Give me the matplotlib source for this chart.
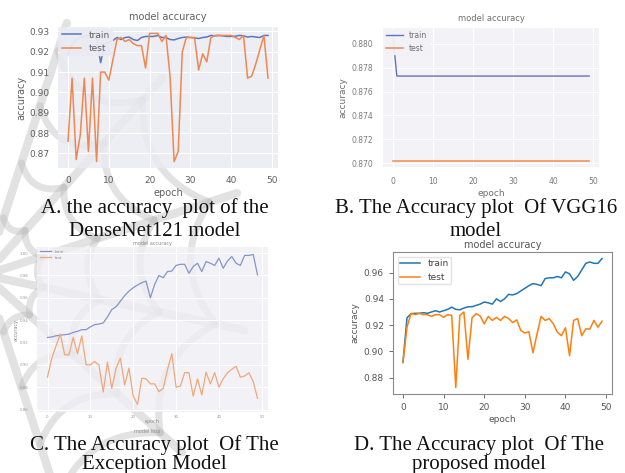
import numpy as np
import matplotlib
matplotlib.use('Agg')
from matplotlib import pyplot as plt

epochs = list(range(50))

# A. DenseNet121
dense_train = [0.9187, 0.9235, 0.9260, 0.9270, 0.9275, 0.9280, 0.9280, 0.9265, 0.9146, 0.9238,
               0.9245, 0.9255, 0.9270, 0.9260, 0.9270, 0.9272, 0.9260, 0.9255, 0.9270, 0.9275,
               0.9275, 0.9275, 0.9280, 0.9270, 0.9270, 0.9260, 0.9258, 0.9265, 0.9270, 0.9272,
               0.9270, 0.9268, 0.9265, 0.9270, 0.9272, 0.9280, 0.9278, 0.9280, 0.9278, 0.9275,
               0.9275, 0.9276, 0.9280, 0.9278, 0.9272, 0.9275, 0.9272, 0.9270, 0.9280, 0.9280]
dense_test = [0.876, 0.907, 0.867, 0.879, 0.907, 0.871, 0.907, 0.866, 0.910, 0.910,
              0.906, 0.916, 0.926, 0.927, 0.925, 0.926, 0.924, 0.923, 0.923, 0.912,
              0.929, 0.929, 0.929, 0.925, 0.928, 0.908, 0.866, 0.871, 0.920, 0.927,
              0.927, 0.927, 0.911, 0.919, 0.915, 0.927, 0.928, 0.928, 0.928, 0.928,
              0.928, 0.927, 0.926, 0.928, 0.907, 0.908, 0.914, 0.921, 0.928, 0.907]

# B. VGG16
vgg_train = [0.8808, 0.8773, 0.8773, 0.8773, 0.8773, 0.8773, 0.8773, 0.8773, 0.8773, 0.8773,
             0.8773, 0.8773, 0.8773, 0.8773, 0.8773, 0.8773, 0.8773, 0.8773, 0.8773, 0.8773,
             0.8773, 0.8773, 0.8773, 0.8773, 0.8773, 0.8773, 0.8773, 0.8773, 0.8773, 0.8773,
             0.8773, 0.8773, 0.8773, 0.8773, 0.8773, 0.8773, 0.8773, 0.8773, 0.8773, 0.8773,
             0.8773, 0.8773, 0.8773, 0.8773, 0.8773, 0.8773, 0.8773, 0.8773, 0.8773, 0.8773]
vgg_test = [0.8702, 0.8702, 0.8702, 0.8702, 0.8702, 0.8702, 0.8702, 0.8702, 0.8702, 0.8702,
            0.8702, 0.8702, 0.8702, 0.8702, 0.8702, 0.8702, 0.8702, 0.8702, 0.8702, 0.8702,
            0.8702, 0.8702, 0.8702, 0.8702, 0.8702, 0.8702, 0.8702, 0.8702, 0.8702, 0.8702,
            0.8702, 0.8702, 0.8702, 0.8702, 0.8702, 0.8702, 0.8702, 0.8702, 0.8702, 0.8702,
            0.8702, 0.8702, 0.8702, 0.8702, 0.8702, 0.8702, 0.8702, 0.8702, 0.8702, 0.8702]

# C. Xception
xcep_train = [0.9245, 0.9250, 0.9260, 0.9265, 0.9270, 0.9275, 0.9290, 0.9300, 0.9315, 0.9315,
              0.9340, 0.9360, 0.9365, 0.9375, 0.9430, 0.9495, 0.9520, 0.9570, 0.9620, 0.9660,
              0.9690, 0.9715, 0.9735, 0.9750, 0.9600, 0.9720, 0.9800, 0.9780, 0.9835, 0.9840,
              0.9890, 0.9900, 0.9900, 0.9820, 0.9880, 0.9910, 0.9835, 0.9925, 0.9910, 0.9890,
              0.9955, 0.9865, 0.9930, 0.9970, 0.9910, 0.9890, 0.9980, 0.9980, 0.9988, 0.9805]
xcep_test = [0.889, 0.906, 0.917, 0.9276, 0.909, 0.909, 0.9246, 0.910, 0.926, 0.900,
             0.900, 0.903, 0.900, 0.8757, 0.9025, 0.879, 0.897, 0.906, 0.882, 0.897,
             0.872, 0.8645, 0.888, 0.8875, 0.883, 0.883, 0.876, 0.879, 0.8957, 0.910,
             0.880, 0.881, 0.893, 0.893, 0.872, 0.8875, 0.873, 0.8936, 0.883, 0.893,
             0.880, 0.8875, 0.893, 0.896, 0.8987, 0.889, 0.890, 0.893, 0.885, 0.870]

# D. proposed model
prop_train = [0.8917, 0.9256, 0.9287, 0.9290, 0.9290, 0.9295, 0.9290, 0.9300, 0.9310, 0.9300,
              0.9310, 0.9320, 0.9337, 0.9320, 0.9317, 0.9330, 0.9340, 0.9340, 0.9350, 0.9360,
              0.9376, 0.9370, 0.9360, 0.9400, 0.9380, 0.9400, 0.9434, 0.9430, 0.9440, 0.9460,
              0.9480, 0.9500, 0.9516, 0.9510, 0.9500, 0.9554, 0.9560, 0.9560, 0.9570, 0.9560,
              0.9605, 0.9590, 0.9541, 0.9570, 0.9620, 0.9670, 0.9680, 0.9670, 0.9670, 0.9707]
prop_test = [0.8917, 0.9185, 0.9290, 0.9280, 0.9290, 0.9280, 0.9280, 0.9267, 0.9280, 0.9280,
             0.9260, 0.9280, 0.9275, 0.8726, 0.9274, 0.9300, 0.8940, 0.9256, 0.9287, 0.9270,
             0.9210, 0.9267, 0.9236, 0.9260, 0.9236, 0.9267, 0.9250, 0.9220, 0.9240, 0.9160,
             0.9140, 0.9150, 0.8990, 0.9134, 0.9267, 0.9236, 0.9250, 0.9210, 0.9147, 0.9120,
             0.9180, 0.8968, 0.9236, 0.9250, 0.9120, 0.9172, 0.9170, 0.9236, 0.9185, 0.9230]

captions = [
    ("A. the accuracy  plot of the", "DenseNet121 model"),
    ("B. The Accuracy plot  Of VGG16", "model"),
    ("C. The Accuracy plot  Of The", "Exception Model"),
    ("D. The Accuracy plot  Of The", "proposed model"),
]

W, H = 625, 473
fig = plt.figure(figsize=(W / 100, H / 100), dpi=100)
fig.patch.set_facecolor('white')


def rect(x0, y0, x1, y1):
    # pixel box (y from top) -> figure fraction
    return [x0 / W, 1 - y1 / H, (x1 - x0) / W, (y1 - y0) / H]


# faint watermark (web logo) behind everything
bg = fig.add_axes([0, 0, 1, 1], zorder=-5)
bg.set_xlim(0, W)
bg.set_ylim(H, 0)
bg.axis('off')
cx, cy = -15, 275
angles = np.radians([72, 48, 18, -12, -42, -72])
wm = dict(color='#b8b8b8', alpha=0.4, solid_capstyle='round')
for a in angles:
    bg.plot([cx, cx + 265 * np.cos(a)], [cy, cy - 265 * np.sin(a)], lw=6, **wm)
for r in [60, 118, 178, 236]:
    for a1, a2 in zip(angles[:-1], angles[1:]):
        t = np.linspace(0, 1, 30)
        p1 = np.array([cx + r * np.cos(a1), cy - r * np.sin(a1)])
        p2 = np.array([cx + r * np.cos(a2), cy - r * np.sin(a2)])
        am = (a1 + a2) / 2
        pc = np.array([cx + 0.78 * r * np.cos(am), cy - 0.78 * r * np.sin(am)])
        pts = ((1 - t) ** 2)[:, None] * p1 + (2 * t * (1 - t))[:, None] * pc + (t ** 2)[:, None] * p2
        bg.plot(pts[:, 0], pts[:, 1], lw=5, **wm)


def sns_panel(ax, face, size, color, pad):
    ax.set_facecolor(face)
    ax.patch.set_alpha(0.82)
    ax.grid(True, color='white', lw=0.8)
    ax.set_axisbelow(True)
    for s in ax.spines.values():
        s.set_visible(False)
    ax.tick_params(length=0, labelsize=size, colors=color, pad=pad)
    ax.set_xticks([0, 10, 20, 30, 40, 50])


# A
axA = fig.add_axes(rect(58, 27, 278, 168))
axA.plot(epochs, dense_train, color='#5a78bd', lw=1.1, label='train')
axA.plot(epochs, dense_test, color='#f0874f', lw=1.1, label='test')
sns_panel(axA, '#eaeaf2', 6.5, '#606060', 6)
axA.set_yticks([0.87, 0.88, 0.89, 0.90, 0.91, 0.92, 0.93])
axA.set_title('model accuracy', fontsize=7, color='#606060', pad=5)
axA.set_xlabel('epoch', fontsize=7, color='#606060', labelpad=2)
axA.set_ylabel('accuracy', fontsize=7, color='#606060', labelpad=2)
axA.legend(loc='upper left', fontsize=6.5, frameon=True, facecolor='#eaeaf2',
           edgecolor='#eaeaf2', framealpha=0.95, labelcolor='#606060',
           borderpad=0.2, handlelength=2.2, borderaxespad=0.2)

# B
axB = fig.add_axes(rect(383, 28, 599, 167))
axB.plot(epochs, vgg_train, color='#6272c0', lw=1.0, label='train')
axB.plot(epochs, vgg_test, color='#f0935a', lw=1.2, label='test')
sns_panel(axB, '#f1f1f6', 5.5, '#7a7a7a', 7)
axB.set_yticks([0.870, 0.872, 0.874, 0.876, 0.878, 0.880])
axB.yaxis.set_major_formatter(matplotlib.ticker.FormatStrFormatter('%.3f'))
axB.set_title('model accuracy', fontsize=6, color='#707070', pad=5)
axB.set_xlabel('epoch', fontsize=6.5, color='#707070', labelpad=2)
axB.set_ylabel('accuracy', fontsize=6.5, color='#707070', labelpad=3)
axB.legend(loc='upper left', fontsize=5.5, frameon=True, facecolor='#f1f1f6',
           edgecolor='#f1f1f6', framealpha=0.95, labelcolor='#707070',
           borderpad=0.2, handlelength=2.2, borderaxespad=0.2)

# C
axC = fig.add_axes(rect(37, 247, 268, 412))
axC.plot(epochs, xcep_train, color='#8595cc', lw=0.9, label='train')
axC.plot(epochs, xcep_test, color='#f2a77a', lw=0.9, label='test')
sns_panel(axC, '#eeeef4', 2.8, '#9a9a9a', 6)
axC.tick_params(axis='x', pad=2)
axC.set_yticks([0.86, 0.88, 0.90, 0.92, 0.94, 0.96, 0.98, 1.00])
axC.set_title('model accuracy', fontsize=3.5, color='#8a8a8a', pad=1.5)
axC.set_xlabel('epoch', fontsize=3.5, color='#8a8a8a', labelpad=0.5)
axC.set_ylabel('accuracy', fontsize=3.5, color='#8a8a8a', labelpad=1)
axC.legend(loc='upper left', fontsize=2.8, frameon=False, labelcolor='#8a8a8a',
           handlelength=3, borderaxespad=0.3)
fig.text(147 / W, 1 - 431 / H, 'model loss', fontsize=3.5, color='#8a8a8a',
         ha='center', va='center')

# D
axD = fig.add_axes(rect(393, 252, 612, 394))
axD.plot(epochs, prop_train, color='#1f77b4', lw=1.1, label='train')
axD.plot(epochs, prop_test, color='#ff7f0e', lw=1.1, label='test')
axD.set_facecolor('white')
for s in axD.spines.values():
    s.set_color('#8a8a8a')
    s.set_linewidth(0.8)
axD.tick_params(labelsize=6.5, colors='#555555', length=3, width=0.6)
axD.set_xticks([0, 10, 20, 30, 40, 50])
axD.set_yticks([0.88, 0.90, 0.92, 0.94, 0.96])
axD.set_title('model accuracy', fontsize=7, color='#555555', pad=3)
axD.set_xlabel('epoch', fontsize=6.5, color='#555555', labelpad=2)
axD.set_ylabel('accuracy', fontsize=6.5, color='#555555', labelpad=3)
axD.legend(loc='upper left', fontsize=6.5, frameon=True, edgecolor='#dddddd',
           labelcolor='#444444', borderpad=0.3, handlelength=2.2, fancybox=True)

# captions
serif = 'Liberation Serif'
cap_pos = [(155, 213, 236), (476, 213, 236), (154, 450, 469), (479, 450, 469)]
for (l1, l2), (x, y1, y2) in zip(captions, cap_pos):
    fig.text(x / W, 1 - y1 / H, l1, fontsize=15, family=serif, ha='center',
             va='baseline', color='#111111')
    fig.text(x / W, 1 - y2 / H, l2, fontsize=15, family=serif, ha='center',
             va='baseline', color='#111111')

fig.savefig('out.png', dpi=100)
